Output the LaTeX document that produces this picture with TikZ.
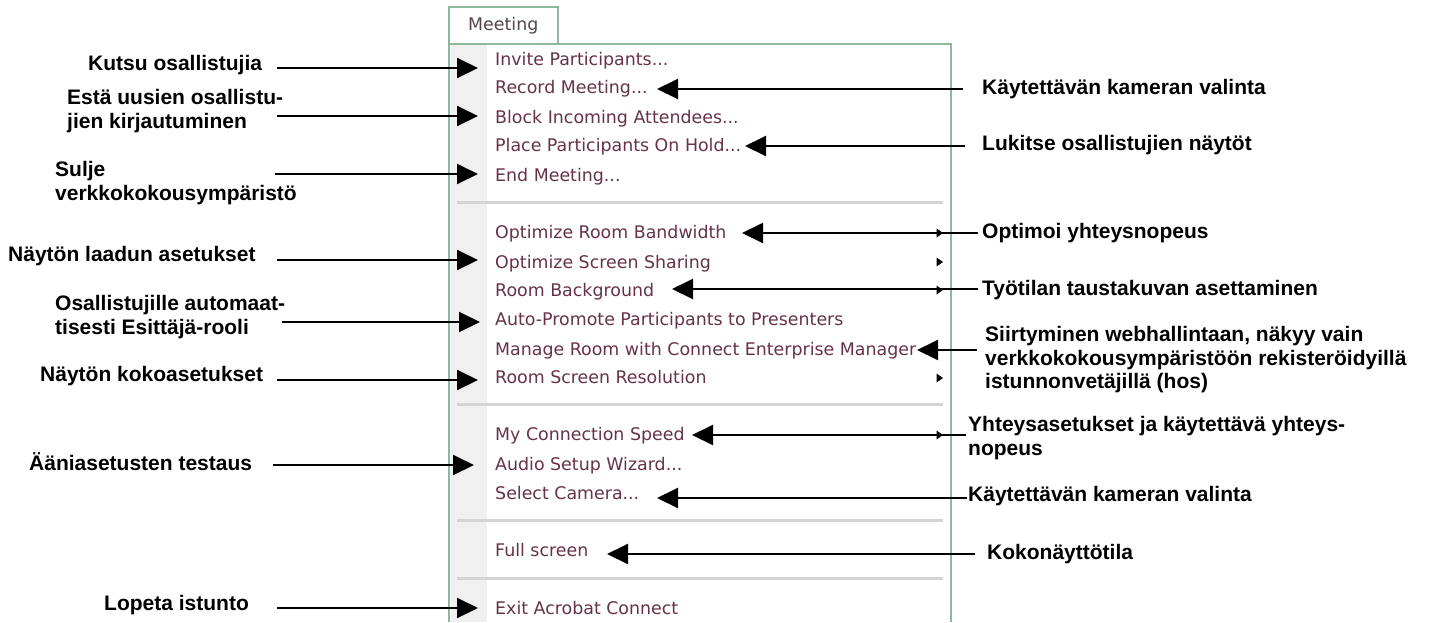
\documentclass[tikz,border=0pt]{standalone}
\usepackage{fontspec}
\setmainfont{Liberation Sans}
\newfontfamily\menufont{DejaVu Sans}
\usetikzlibrary{arrows.meta}
\definecolor{menutxt}{RGB}{102,50,72}
\definecolor{tabtxt}{RGB}{85,70,78}
\definecolor{framecol}{RGB}{140,185,152}
\definecolor{stripcol}{RGB}{240,240,240}
\definecolor{sepcol}{RGB}{212,212,212}
\begin{document}
\begin{tikzpicture}[x=1pt,y=-1pt,
  item/.style={anchor=base west,inner sep=0pt,font=\menufont\fontsize{17.4}{20}\selectfont,text=menutxt},
  lab/.style={anchor=base west,inner sep=0pt,font=\bfseries\fontsize{21}{23.5}\selectfont},
  arr/.style={line width=2pt,-{Triangle[length=21pt,width=20pt]}},
  sepline/.style={sepcol,line width=3pt},
  subtri/.style={fill=black}]
\useasboundingbox (0,0) rectangle (1435,622);
% menu frame
\fill[stripcol] (451,45) rectangle (487,622);
\draw[framecol,line width=2.5pt] (449,622) -- (449,44) -- (951,44) -- (951,622);
\draw[framecol,line width=2pt,fill=white] (449,43) -- (449,7) -- (558,7) -- (558,43);
\node[item,text=tabtxt] (tab) at (468,30) {Meeting};
% separators
\draw[sepline] (457,202) -- (943,202);
\draw[sepline] (457,404) -- (943,404);
\draw[sepline] (457,520) -- (943,520);
\draw[sepline] (457,578) -- (943,578);
% menu items
\node[item] (inv) at (495,65) {Invite Participants...};
\node[item] (rec) at (495,93) {Record Meeting...};
\node[item] (blk) at (495,123) {Block Incoming Attendees...};
\node[item] (plc) at (495,151.5) {Place Participants On Hold...};
\node[item] (endm) at (495,181.5) {End Meeting...};
\node[item] (orb) at (495,238.5) {Optimize Room Bandwidth};
\node[item] (oss) at (495,268) {Optimize Screen Sharing};
\node[item] (rbg) at (495,296.5) {Room Background};
\node[item] (apr) at (495,325) {Auto-Promote Participants to Presenters};
\node[item] (mgr) at (495,355) {Manage Room with Connect Enterprise Manager};
\node[item] (rsr) at (495,383.5) {Room Screen Resolution};
\node[item] (mcs) at (495,440.5) {My Connection Speed};
\node[item] (asw) at (495,470.5) {Audio Setup Wizard...};
\node[item] (scm) at (495,499.5) {Select Camera...};
\node[item] (fsc) at (495,556.5) {Full screen};
\node[item] (eac) at (495,614.5) {Exit Acrobat Connect};
% submenu triangles
\foreach \yy in {233,262,290,378,435}
  \fill[subtri] (936.5,\yy-4.5) -- (943,\yy) -- (936.5,\yy+4.5) -- cycle;
% left labels
\node[lab] (kutsu) at (88,70.5) {Kutsu osallistujia};
\node[lab] (esta) at (67,104.5) {\begin{tabular}[t]{@{}l@{}}Estä uusien osallistu-\\jien kirjautuminen\end{tabular}};
\node[lab] (sulje) at (55,176.5) {\begin{tabular}[t]{@{}l@{}}Sulje\\verkkokokousympäristö\end{tabular}};
\node[lab] (laatu) at (8,261.5) {Näytön laadun asetukset};
\node[lab] (esitt) at (55,310.5) {\begin{tabular}[t]{@{}l@{}}Osallistujille automaat-\\tisesti Esittäjä-rooli\end{tabular}};
\node[lab] (koko) at (40,381.5) {Näytön kokoasetukset};
\node[lab] (aani) at (29,470.5) {Ääniasetusten testaus};
\node[lab] (lopeta) at (104,610.5) {Lopeta istunto};
% right labels
\node[lab] (kam1) at (982,94) {Käytettävän kameran valinta};
\node[lab] (lukit) at (982,150.5) {Lukitse osallistujien näytöt};
\node[lab] (optim) at (982,238) {Optimoi yhteysnopeus};
\node[lab] (tausta) at (982,295) {Työtilan taustakuvan asettaminen};
\node[lab] (siirt) at (985,341.5) {\begin{tabular}[t]{@{}l@{}}Siirtyminen webhallintaan, näkyy vain\\verkkokokousympäristöön rekisteröidyillä\\istunnonvetäjillä (hos)\end{tabular}};
\node[lab] (yhteys) at (968,431.5) {\begin{tabular}[t]{@{}l@{}}Yhteysasetukset ja käytettävä yhteys-\\nopeus\end{tabular}};
\node[lab] (kam2) at (968,501) {Käytettävän kameran valinta};
\node[lab] (kokon) at (987,559) {Kokonäyttötila};
% connector end points
\coordinate (kutsuS) at (277,68);   \coordinate (kutsuE) at (478,68);
\coordinate (estaS) at (277,116);   \coordinate (estaE) at (478,116);
\coordinate (sulS) at (275,174);    \coordinate (sulE) at (478,174);
\coordinate (laatuS) at (277,260);  \coordinate (laatuE) at (478,260);
\coordinate (esitS) at (282,322);   \coordinate (esitE) at (480,322);
\coordinate (kokoS) at (277,380);   \coordinate (kokoE) at (478,380);
\coordinate (aaniS) at (273,465);   \coordinate (aaniE) at (474,465);
\coordinate (lopS) at (277,608);    \coordinate (lopE) at (478,608);
\coordinate (kam1S) at (963,89);    \coordinate (kam1E) at (657,89);
\coordinate (lukS) at (965,146);    \coordinate (lukE) at (745,146);
\coordinate (optS) at (978,233);    \coordinate (optE) at (742,233);
\coordinate (tauS) at (978,289);    \coordinate (tauE) at (672,289);
\coordinate (siiS) at (977,350);    \coordinate (siiE) at (917,350);
\coordinate (yhtS) at (966,435);    \coordinate (yhtE) at (692,435);
\coordinate (kam2S) at (967,498);   \coordinate (kam2E) at (657,498);
\coordinate (kokS) at (975,554);    \coordinate (kokE) at (607,554);
% connectors
\draw[arr] (kutsuS) -- (kutsuE);
\draw[arr] (estaS) -- (estaE);
\draw[arr] (sulS) -- (sulE);
\draw[arr] (laatuS) -- (laatuE);
\draw[arr] (esitS) -- (esitE);
\draw[arr] (kokoS) -- (kokoE);
\draw[arr] (aaniS) -- (aaniE);
\draw[arr] (lopS) -- (lopE);
\draw[arr] (kam1S) -- (kam1E);
\draw[arr] (lukS) -- (lukE);
\draw[arr] (optS) -- (optE);
\draw[arr] (tauS) -- (tauE);
\draw[arr] (siiS) -- (siiE);
\draw[arr] (yhtS) -- (yhtE);
\draw[arr] (kam2S) -- (kam2E);
\draw[arr] (kokS) -- (kokE);
\end{tikzpicture}
\end{document}
